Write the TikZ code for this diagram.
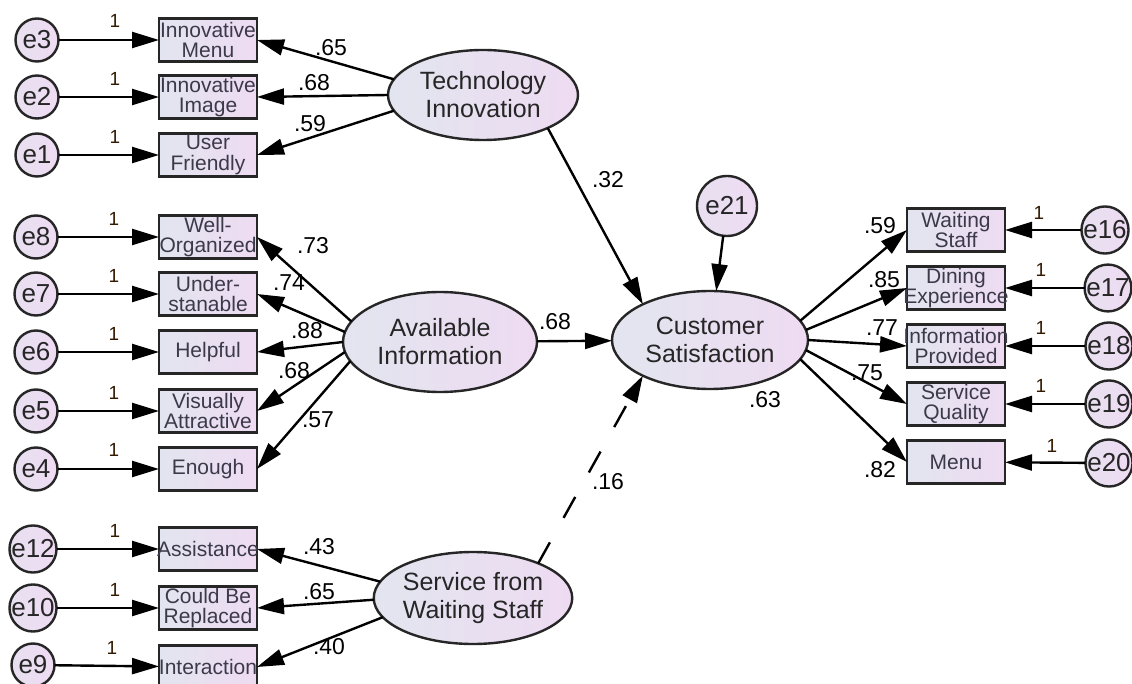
\documentclass[tikz,border=0pt]{standalone}
\usepackage{fontspec}
\setmainfont{Liberation Sans}
\usetikzlibrary{arrows.meta,shapes.geometric}

\definecolor{shadeL}{HTML}{E2E5EF}
\definecolor{shadeR}{HTML}{EEDBF2}
\definecolor{errL}{HTML}{E8E0F1}
\definecolor{ink}{HTML}{262626}
\definecolor{boxtext}{HTML}{3C3A4A}

% a fixed-width line of text: long labels spill evenly over the box edges
\newcommand{\cell}[1]{\makebox[90pt][c]{#1}}

\begin{document}
\begin{tikzpicture}[x=1pt,y=-1pt,
  every node/.style={inner sep=0pt, outer sep=0pt},
  obs/.style={draw=ink, line width=2.6pt, left color=shadeL, right color=shadeR,
    minimum width=98pt, minimum height=43pt, text=boxtext, align=center,
    font=\fontsize{21}{20.5}\selectfont},
  lat/.style={ellipse, draw=ink, line width=2.4pt, left color=shadeL, right color=shadeR,
    text=ink, align=center, font=\fontsize{25}{28}\selectfont},
  err/.style={circle, draw=ink, line width=2.4pt, left color=errL, right color=shadeR,
    minimum size=43pt, text=ink, font=\fontsize{26}{26}\selectfont},
  arr/.style={draw=black, line width=2.4pt, -{Triangle[length=27pt,width=16pt]}},
  coef/.style={text=black, font=\fontsize{23}{23}\selectfont},
  unit/.style={text=black!80!orange, font=\fontsize{19}{19}\selectfont},
]
\fill[white] (0,0) rectangle (1132,684);
\useasboundingbox (0,0) rectangle (1132,684);

% latent variables
\node[lat, minimum width=190pt, minimum height=90pt] (TI) at (483,95) {Technology\\Innovation};
\node[lat, minimum width=194pt, minimum height=100pt] (AI) at (440,342) {Available\\Information};
\node[lat, minimum width=196pt, minimum height=92pt] (SW) at (473,598) {Service from\\Waiting Staff};
\node[lat, minimum width=196pt, minimum height=98pt] (CS) at (710,340) {Customer\\Satisfaction};

% indicators, left
\node[obs] (m1) at (208,40)  {\cell{Innovative}\\\cell{Menu}};
\node[obs] (m2) at (208,97)  {\cell{Innovative}\\\cell{Image}};
\node[obs] (m3) at (208,155) {\cell{User}\\\cell{Friendly}};
\node[obs] (a1) at (208,237) {\cell{Well-}\\\cell{Organized}};
\node[obs] (a2) at (208,294) {\cell{Under-}\\\cell{stanable}};
\node[obs] (a3) at (208,352) {\cell{Helpful}};
\node[obs] (a4) at (208,411) {\cell{Visually}\\\cell{Attractive}};
\node[obs] (a5) at (208,469) {\cell{Enough}};
\node[obs] (s1) at (208,549) {\cell{Assistance}};
\node[obs] (s2) at (208,608) {\cell{Could Be}\\\cell{Replaced}};
\node[obs] (s3) at (208,667) {\cell{Interaction}};

% indicators, right
\node[obs] (c1) at (956,230) {\cell{Waiting}\\\cell{Staff}};
\node[obs] (c2) at (956,288) {\cell{Dining}\\\cell{Experience}};
\node[obs] (c3) at (956,346) {\cell{Information}\\\cell{Provided}};
\node[obs] (c4) at (956,404) {\cell{Service}\\\cell{Quality}};
\node[obs] (c5) at (956,462) {\cell{Menu}};

% error terms
\node[err] (e3)  at (37,40)  {e3};
\node[err] (e2)  at (37,97)  {e2};
\node[err] (e1)  at (37,155) {e1};
\node[err] (e8)  at (36,237) {e8};
\node[err] (e7)  at (36,294) {e7};
\node[err] (e6)  at (36,352) {e6};
\node[err] (e5)  at (36,411) {e5};
\node[err] (e4)  at (36,469) {e4};
\node[err] (e12) at (33,549) {e12};
\node[err] (e10) at (33,608) {e10};
\node[err] (e9)  at (33,665) {e9};
\node[err] (e16) at (1105,230) {e16};
\node[err] (e17) at (1108,288) {e17};
\node[err] (e18) at (1109,346) {e18};
\node[err] (e19) at (1109,404) {e19};
\node[err] (e20) at (1109,463) {e20};
\node[err, minimum size=60pt] (e21) at (727,206) {e21};

% error paths, left
\foreach \e/\b in {e3/m1,e2/m2,e1/m3,e8/a1,e7/a2,e6/a3,e5/a4,e4/a5,e12/s1,e10/s2,e9/s3}
  \draw[arr] (\e) -- (\b);
% error paths, right
\foreach \e/\b in {e16/c1,e17/c2,e18/c3,e19/c4,e20/c5}
  \draw[arr] (\e) -- (\b);

% loadings
\draw[arr] (TI.170) -- (m1.east);
\draw[arr] (TI.180) -- (m2.east);
\draw[arr] (TI.190) -- (m3.east);
\draw[arr] (AI.167) -- (a1.east);
\draw[arr] (AI.174) -- (a2.east);
\draw[arr] (AI.180) -- (a3.east);
\draw[arr] (AI.186) -- (a4.east);
\draw[arr] (AI.192) -- (a5.east);
\draw[arr] (SW.170) -- (s1.east);
\draw[arr] (SW.181) -- (s2.east);
\draw[arr] (SW.192) -- (s3.east);
\draw[arr] (CS.12)  -- (c1.west);
\draw[arr] (CS.6)   -- (c2.west);
\draw[arr] (CS.0)   -- (c3.west);
\draw[arr] (CS.-6)  -- (c4.west);
\draw[arr] (CS.-12) -- (c5.west);

% structural paths
\draw[arr] (TI.-27) -- (CS.152);
\draw[arr] (AI) -- (CS);
\draw[arr] (e21) -- (CS);
\draw[arr, dash pattern=on 24pt off 28pt] (SW.28) -- (CS.-152);

% unit constraints
\foreach \x/\y in {115/21,115/79,115/137,114/219,114/276,114/334,114/393,114/450,115/531,115/590,112/648}
  \node[unit] at (\x,\y) {1};
\foreach \x/\y in {1039/213,1041/270,1041/328,1041/386,1052/446}
  \node[unit] at (\x,\y) {1};

% coefficients
\node[coef] at (331,48)  {.65};
\node[coef] at (314,83)  {.68};
\node[coef] at (310,124) {.59};
\node[coef] at (313,246) {.73};
\node[coef] at (289,283) {.74};
\node[coef] at (307,331) {.88};
\node[coef] at (294,371) {.68};
\node[coef] at (318,420) {.57};
\node[coef] at (319,547) {.43};
\node[coef] at (319,592) {.65};
\node[coef] at (329,647) {.40};
\node[coef] at (608,180) {.32};
\node[coef] at (555,322) {.68};
\node[coef] at (608,482) {.16};
\node[coef] at (765,400) {.63};
\node[coef] at (880,226) {.59};
\node[coef] at (884,280) {.85};
\node[coef] at (882,328) {.77};
\node[coef] at (867,373) {.75};
\node[coef] at (880,470) {.82};
\end{tikzpicture}
\end{document}
